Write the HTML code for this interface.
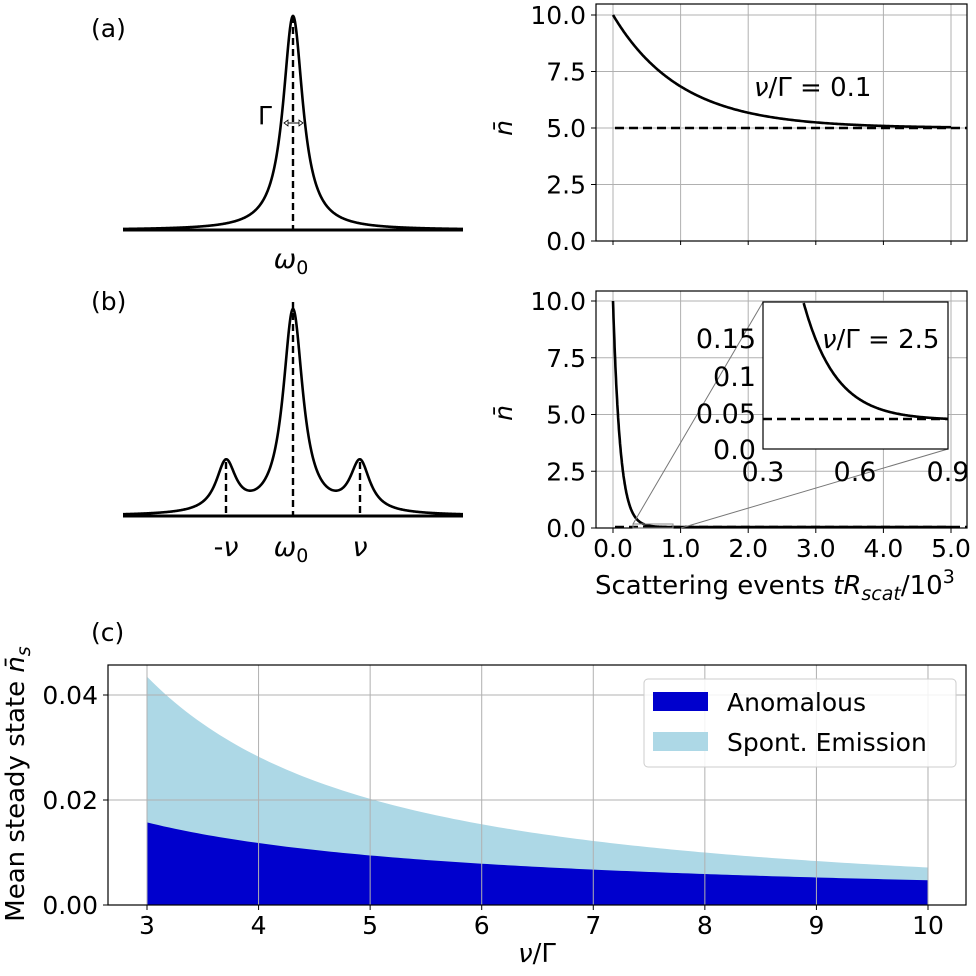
<!DOCTYPE html>
<html><head><meta charset="utf-8"><style>
html,body{margin:0;padding:0;background:#fff}
svg{display:block;font-family:"DejaVu Sans","Liberation Sans",sans-serif}
</style></head><body>
<svg id="s" width="976" height="976" viewBox="0 0 976 976" xmlns="http://www.w3.org/2000/svg">
<!-- (a) -->
<text x="91" y="37" font-size="25">(a)</text>
<line x1="123" y1="230" x2="463" y2="230" stroke="#000" stroke-width="3"/>
<path id="pa" fill="none" stroke="#000" stroke-width="2.6"/>
<line x1="293" y1="16" x2="293" y2="230" stroke="#000" stroke-width="2.4" stroke-dasharray="7,4"/>
<line x1="284" y1="123" x2="303" y2="123" stroke="#000" stroke-width="1"/>
<path d="M284 123 l4 -3 v6 z M303 123 l-4 -3 v6 z" fill="#fff" stroke="#000" stroke-width="0.8"/>
<text x="258" y="124" font-size="25">Γ</text>
<text x="291" y="268" font-size="27" font-style="italic" text-anchor="middle">ω<tspan font-size="19" dy="6" font-style="normal">0</tspan></text>
<!-- (b) -->
<text x="91" y="310" font-size="25">(b)</text>
<line x1="123" y1="516" x2="463" y2="516" stroke="#000" stroke-width="3"/>
<path id="pb" fill="none" stroke="#000" stroke-width="2.6"/>
<line x1="293" y1="302" x2="293" y2="516" stroke="#000" stroke-width="2.4" stroke-dasharray="7,4"/>
<line x1="226" y1="462" x2="226" y2="516" stroke="#000" stroke-width="2.4" stroke-dasharray="7,4"/>
<line x1="360" y1="462" x2="360" y2="516" stroke="#000" stroke-width="2.4" stroke-dasharray="7,4"/>
<text x="226" y="556" font-size="27" text-anchor="middle">-<tspan font-style="italic">ν</tspan></text>
<text x="291" y="556" font-size="27" font-style="italic" text-anchor="middle">ω<tspan font-size="19" dy="6" font-style="normal">0</tspan></text>
<text x="360" y="556" font-size="27" font-style="italic" text-anchor="middle">ν</text>

<!-- top right -->
<g id="gTR" stroke="#b0b0b0" stroke-width="1"></g>
<rect x="596" y="4" width="371" height="237" fill="none" stroke="#000" stroke-width="1.2"/>
<path id="ctr" fill="none" stroke="#000" stroke-width="2.6"/>
<line x1="615" y1="128" x2="967" y2="128" stroke="#000" stroke-width="2.6" stroke-dasharray="9,5"/>
<text x="754" y="96" font-size="26"><tspan font-style="italic">ν</tspan>/Γ = 0.1</text>
<g font-size="25" text-anchor="end" id="ytr"></g>
<text transform="translate(512,128) rotate(-90)" font-size="25" font-style="italic" text-anchor="middle">n̄</text>

<!-- bottom right -->
<g id="gBR" stroke="#b0b0b0" stroke-width="1"></g>
<rect x="596" y="291" width="371" height="237" fill="none" stroke="#000" stroke-width="1.2"/>
<path id="cbr" fill="none" stroke="#000" stroke-width="2.6"/>
<line x1="615" y1="527" x2="967" y2="527" stroke="#000" stroke-width="2.6" stroke-dasharray="9,5"/>
<rect x="633" y="524" width="40" height="4" fill="none" stroke="#888" stroke-width="1"/>
<line x1="633" y1="524" x2="763" y2="302" stroke="#777" stroke-width="1"/>
<line x1="681" y1="528" x2="948" y2="449" stroke="#777" stroke-width="1"/>
<rect x="763" y="302" width="185" height="147" fill="#fff" stroke="#000" stroke-width="1.2"/>
<path id="cin" fill="none" stroke="#000" stroke-width="2.6"/>
<line x1="763" y1="419" x2="948" y2="419" stroke="#000" stroke-width="2.6" stroke-dasharray="9,5"/>
<text x="822" y="348" font-size="26"><tspan font-style="italic">ν</tspan>/Γ = 2.5</text>
<g font-size="27" text-anchor="end">
<text x="756" y="348">0.15</text><text x="756" y="386">0.1</text><text x="756" y="423">0.05</text><text x="756" y="459">0.0</text>
</g>
<g font-size="27" text-anchor="middle">
<text x="763" y="481">0.3</text><text x="855" y="481">0.6</text><text x="948" y="481">0.9</text>
</g>
<g font-size="25" text-anchor="end" id="ybr"></g>
<g font-size="25" text-anchor="middle" id="xbr"></g>
<text transform="translate(512,413) rotate(-90)" font-size="25" font-style="italic" text-anchor="middle">n̄</text>
<text x="595" y="594" font-size="26">Scattering events <tspan font-style="italic">tR<tspan font-size="19" dy="6">scat</tspan></tspan><tspan dy="-6">/10</tspan><tspan font-size="19" dy="-11">3</tspan></text>

<!-- (c) -->
<text x="91" y="641" font-size="25">(c)</text>
<path id="light" fill="#add8e6"/>
<path id="dark" fill="#0000cd"/>
<g id="gC" stroke="#b0b0b0" stroke-width="1"></g>
<rect x="108" y="665" width="858" height="240" fill="none" stroke="#000" stroke-width="1.2"/>
<rect x="644" y="679" width="312" height="88" rx="4" fill="#fff" fill-opacity="0.85" stroke="#ccc"/>
<rect x="653" y="692" width="55" height="19" fill="#0000cd"/>
<rect x="653" y="732" width="55" height="19" fill="#add8e6"/>
<text x="727" y="711" font-size="25">Anomalous</text>
<text x="727" y="751" font-size="25">Spont. Emission</text>
<g font-size="25" text-anchor="end">
<text x="98" y="914">0.00</text><text x="98" y="809">0.02</text><text x="98" y="704">0.04</text>
</g>
<g font-size="25" text-anchor="middle" id="xc"></g>
<text x="537" y="962" font-size="26" text-anchor="middle"><tspan font-style="italic">ν</tspan>/Γ</text>
<text transform="translate(24,784) rotate(-90)" font-size="26" text-anchor="middle">Mean steady state <tspan font-style="italic">n̄<tspan font-size="19" dy="6">s</tspan></tspan></text>
</svg>
<script>
const NS="http://www.w3.org/2000/svg";
function el(p,t,a,txt){const e=document.createElementNS(NS,t);for(const k in a)e.setAttribute(k,a[k]);if(txt!==undefined)e.textContent=txt;document.getElementById(p).appendChild(e);return e;}
const L=(x,c,g)=>g*g/(g*g+(x-c)*(x-c));
let d="";for(let x=123;x<=463;x+=0.5){const y=230-214*L(x,293,12);d+=(d?"L":"M")+x+" "+y.toFixed(2);}
document.getElementById("pa").setAttribute("d",d);
d="";for(let x=123;x<=463;x+=0.5){const v=204*L(x,293,12)+50*(L(x,226,12)+L(x,360,12));d+=(d?"L":"M")+x+" "+(516-v).toFixed(2);}
document.getElementById("pb").setAttribute("d",d);
const X=t=>613+t*67.6;
for(let i=0;i<=5;i++){el("gTR","line",{x1:X(i),y1:4,x2:X(i),y2:241});el("gBR","line",{x1:X(i),y1:291,x2:X(i),y2:528});
 el("gTR","line",{x1:X(i),y1:241,x2:X(i),y2:245,stroke:"#000"});
 el("gBR","line",{x1:X(i),y1:528,x2:X(i),y2:533,stroke:"#000"});
 el("xbr","text",{x:X(i),y:557},i+".0");}
const labs=["0.0","2.5","5.0","7.5","10.0"];
for(let j=0;j<5;j++){const y1=241-j*56.5,y2=528-j*56.75;
 el("gTR","line",{x1:596,y1:y1,x2:967,y2:y1});el("gBR","line",{x1:596,y1:y2,x2:967,y2:y2});
 el("gTR","line",{x1:591,y1:y1,x2:596,y2:y1,stroke:"#000"});el("gBR","line",{x1:591,y1:y2,x2:596,y2:y2,stroke:"#000"});
 el("ytr","text",{x:586,y:y1+9},labs[j]);el("ybr","text",{x:586,y:y2+9},labs[j]);}
d="";for(let t=0;t<=5;t+=0.02){d+=(d?"L":"M")+X(t).toFixed(1)+" "+(241-22.6*(5+5*Math.exp(-t))).toFixed(2);}
document.getElementById("ctr").setAttribute("d",d);
const nb=t=>0.04+9.96*Math.exp(-t/0.105);
d="";for(let t=0;t<=5;t+=0.004){d+=(d?"L":"M")+X(t).toFixed(1)+" "+(528-22.7*nb(t)).toFixed(2);}
document.getElementById("cbr").setAttribute("d",d);
d="";for(let t=0.3;t<=0.9;t+=0.002){let y=449-720*nb(t);if(y<302)continue;d+=(d?"L":"M")+(763+(t-0.3)/0.6*185).toFixed(1)+" "+y.toFixed(2);}
document.getElementById("cin").setAttribute("d",d);
const XC=v=>147+(v-3)*111.57, YC=n=>905-n*5250;
let dl="M147 905",dd="M147 905";
for(let v=3;v<=10.001;v+=0.05){dl+="L"+XC(v).toFixed(1)+" "+YC(0.226*Math.pow(v,-1.5)).toFixed(2);dd+="L"+XC(v).toFixed(1)+" "+YC(0.0472/v).toFixed(2);}
dl+="L928 905Z";dd+="L928 905Z";
document.getElementById("light").setAttribute("d",dl);document.getElementById("dark").setAttribute("d",dd);
for(let v=3;v<=10;v++){el("gC","line",{x1:XC(v),y1:665,x2:XC(v),y2:905});el("gC","line",{x1:XC(v),y1:905,x2:XC(v),y2:910,stroke:"#000"});el("xc","text",{x:XC(v),y:934},v);}
[0,0.02,0.04].forEach(n=>{el("gC","line",{x1:108,y1:YC(n),x2:966,y2:YC(n)});el("gC","line",{x1:103,y1:YC(n),x2:108,y2:YC(n),stroke:"#000"});});
</script>
</body></html>
